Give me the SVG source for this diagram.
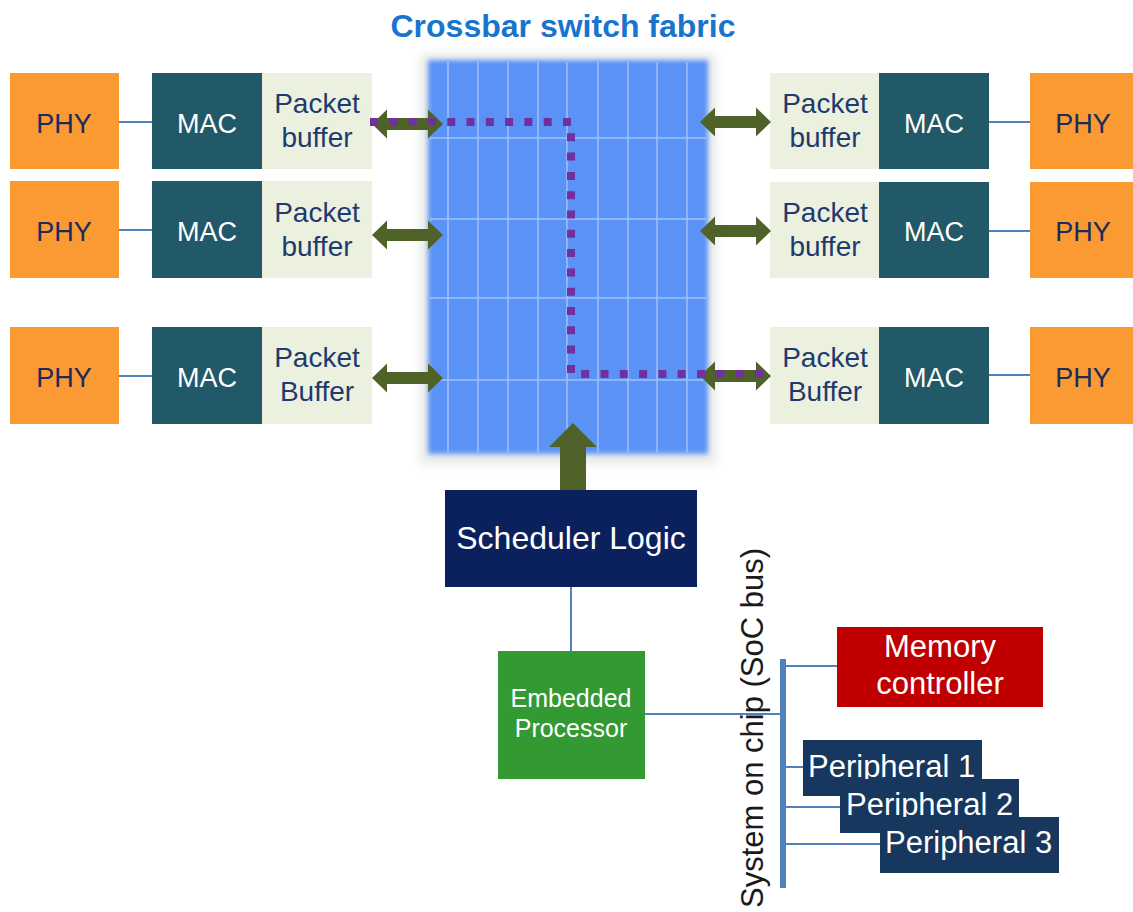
<svg xmlns="http://www.w3.org/2000/svg" width="1133" height="912" viewBox="0 0 1133 912">
<style>
  .phy{fill:#fb9933}
  .mac{fill:#215968}
  .pb{fill:#ebf1de}
  .t{font-family:"Liberation Sans",Arial,sans-serif;}
  .phyt{fill:#1c2b5a;font-size:27px;text-anchor:middle}
  .mact{fill:#ffffff;font-size:27px;text-anchor:middle}
  .pbt{fill:#1f3a6e;font-size:28px;text-anchor:middle}
  .wire{stroke:#4f81bd;stroke-width:2;fill:none}
  .grid{stroke:#b3cdfa;stroke-width:1.5;opacity:0.8}
  .garrow{fill:#4f6228}
  .per{fill:#17375e}
  .pert{fill:#ffffff;font-size:31px}
</style>
<defs>
  <filter id="soft" x="-10%" y="-10%" width="120%" height="120%">
    <feGaussianBlur stdDeviation="2.5"/>
  </filter>
  <filter id="shadow" x="-20%" y="-20%" width="140%" height="140%">
    <feGaussianBlur stdDeviation="5"/>
  </filter>
  <path id="dbl" d="M0 0 L15 -14.5 L15 -6 L56 -6 L56 -14.5 L71 0 L56 14.5 L56 6 L15 6 L15 14.5 Z"/>
</defs>
<rect width="1133" height="912" fill="#ffffff"/>

<!-- Title -->
<text class="t" x="563" y="37" font-size="32" font-weight="bold" fill="#1874cd" text-anchor="middle">Crossbar switch fabric</text>

<!-- Crossbar -->
<g id="crossbar">
  <rect x="420" y="54" width="296" height="410" fill="#cfcfcf" opacity="0.45" filter="url(#shadow)"/>
  <rect x="428" y="60" width="280" height="394" fill="#5a93f5" filter="url(#soft)"/>
  <g class="grid">
    <line x1="448" y1="62" x2="448" y2="452"/>
    <line x1="478" y1="62" x2="478" y2="452"/>
    <line x1="508" y1="62" x2="508" y2="452"/>
    <line x1="538" y1="62" x2="538" y2="452"/>
    <line x1="567" y1="62" x2="567" y2="452"/>
    <line x1="598" y1="62" x2="598" y2="452"/>
    <line x1="628" y1="62" x2="628" y2="452"/>
    <line x1="657" y1="62" x2="657" y2="452"/>
    <line x1="687" y1="62" x2="687" y2="452"/>
    <line x1="430" y1="138" x2="706" y2="138"/>
    <line x1="430" y1="219" x2="706" y2="219"/>
    <line x1="430" y1="298" x2="706" y2="298"/>
    <line x1="430" y1="380" x2="706" y2="380"/>
  </g>
</g>

<!-- Left ports -->
<g id="left-port-1">
  <rect class="phy" x="10" y="73" width="109" height="96"/>
  <text class="t phyt" x="64" y="133">PHY</text>
  <rect class="mac" x="152" y="73" width="110" height="96"/>
  <text class="t mact" x="207" y="133">MAC</text>
  <rect class="pb" x="262" y="73" width="110" height="96"/>
  <text class="t pbt" x="317" y="113">Packet</text>
  <text class="t pbt" x="317" y="147">buffer</text>
</g>
<g id="left-port-2">
  <rect class="phy" x="10" y="181" width="109" height="97"/>
  <text class="t phyt" x="64" y="241">PHY</text>
  <rect class="mac" x="152" y="181" width="110" height="97"/>
  <text class="t mact" x="207" y="241">MAC</text>
  <rect class="pb" x="262" y="181" width="110" height="97"/>
  <text class="t pbt" x="317" y="222">Packet</text>
  <text class="t pbt" x="317" y="256">buffer</text>
</g>
<g id="left-port-3">
  <rect class="phy" x="10" y="327" width="109" height="97"/>
  <text class="t phyt" x="64" y="387">PHY</text>
  <rect class="mac" x="152" y="327" width="110" height="97"/>
  <text class="t mact" x="207" y="387">MAC</text>
  <rect class="pb" x="262" y="327" width="110" height="97"/>
  <text class="t pbt" x="317" y="367">Packet</text>
  <text class="t pbt" x="317" y="401">Buffer</text>
</g>

<!-- Right ports -->
<g id="right-port-1">
  <rect class="pb" x="770" y="73" width="109" height="96"/>
  <text class="t pbt" x="825" y="113">Packet</text>
  <text class="t pbt" x="825" y="147">buffer</text>
  <rect class="mac" x="879" y="73" width="110" height="96"/>
  <text class="t mact" x="934" y="133">MAC</text>
  <rect class="phy" x="1030" y="73" width="103" height="96"/>
  <text class="t phyt" x="1083" y="133">PHY</text>
</g>
<g id="right-port-2">
  <rect class="pb" x="770" y="182" width="109" height="96"/>
  <text class="t pbt" x="825" y="222">Packet</text>
  <text class="t pbt" x="825" y="256">buffer</text>
  <rect class="mac" x="879" y="182" width="110" height="96"/>
  <text class="t mact" x="934" y="241">MAC</text>
  <rect class="phy" x="1030" y="182" width="103" height="96"/>
  <text class="t phyt" x="1083" y="241">PHY</text>
</g>
<g id="right-port-3">
  <rect class="pb" x="770" y="327" width="109" height="97"/>
  <text class="t pbt" x="825" y="367">Packet</text>
  <text class="t pbt" x="825" y="401">Buffer</text>
  <rect class="mac" x="879" y="327" width="110" height="97"/>
  <text class="t mact" x="934" y="387">MAC</text>
  <rect class="phy" x="1030" y="327" width="103" height="97"/>
  <text class="t phyt" x="1083" y="387">PHY</text>
</g>

<!-- Scheduler -->
<g id="scheduler">
  <rect x="445" y="490" width="252" height="97" fill="#0a215e"/>
  <text class="t" x="571" y="549" font-size="32" fill="#ffffff" text-anchor="middle">Scheduler Logic</text>
</g>

<!-- Embedded processor -->
<g id="processor">
  <rect x="498" y="651" width="147" height="128" fill="#339933"/>
  <text class="t" x="571" y="707" font-size="25" fill="#ffffff" text-anchor="middle">Embedded</text>
  <text class="t" x="571" y="737" font-size="25" fill="#ffffff" text-anchor="middle">Processor</text>
</g>

<!-- Memory controller -->
<g id="memory">
  <rect x="837" y="627" width="206" height="80" fill="#c00000"/>
  <text class="t" x="940" y="657" font-size="31" fill="#ffffff" text-anchor="middle">Memory</text>
  <text class="t" x="940" y="694" font-size="31" fill="#ffffff" text-anchor="middle">controller</text>
</g>

<!-- Connectors -->
<g id="connectors">
  <line class="wire" x1="119" y1="122" x2="152" y2="122"/>
  <line class="wire" x1="119" y1="230" x2="152" y2="230"/>
  <line class="wire" x1="119" y1="376" x2="152" y2="376"/>
  <line class="wire" x1="989" y1="122" x2="1030" y2="122"/>
  <line class="wire" x1="989" y1="231" x2="1030" y2="231"/>
  <line class="wire" x1="989" y1="375" x2="1030" y2="375"/>

  <use href="#dbl" class="garrow" x="372" y="124"/>
  <use href="#dbl" class="garrow" x="372" y="235"/>
  <use href="#dbl" class="garrow" x="372" y="378"/>
  <use href="#dbl" class="garrow" x="700" y="122"/>
  <use href="#dbl" class="garrow" x="700" y="231"/>
  <use href="#dbl" class="garrow" x="700" y="376"/>

  <path d="M370 122 H571 V374 H770" fill="none" stroke="#7030a0" stroke-width="8" stroke-dasharray="8 11.3"/>

  <path class="garrow" d="M573 423 L597 447 L586 447 L586 490 L560 490 L560 447 L549 447 Z"/>

  <line class="wire" x1="571" y1="587" x2="571" y2="651"/>
  <line class="wire" x1="645" y1="714" x2="783" y2="714"/>
  <line x1="783" y1="659" x2="783" y2="888" stroke="#4f81bd" stroke-width="6"/>
  <line class="wire" x1="783" y1="666" x2="837" y2="666"/>
  <line class="wire" x1="783" y1="767" x2="803" y2="767"/>
  <line class="wire" x1="783" y1="807" x2="840" y2="807"/>
  <line class="wire" x1="783" y1="844" x2="880" y2="844"/>
</g>

<!-- Peripherals -->
<g id="peripheral-1">
  <rect class="per" x="803" y="740" width="179" height="56"/>
  <text class="t pert" x="808" y="777">Peripheral 1</text>
</g>
<g id="peripheral-2">
  <rect class="per" x="840" y="779" width="179" height="54"/>
  <text class="t pert" x="846" y="815">Peripheral 2</text>
</g>
<g id="peripheral-3">
  <rect class="per" x="880" y="817" width="179" height="56"/>
  <text class="t pert" x="885" y="853">Peripheral 3</text>
</g>

<!-- SoC bus label -->
<text class="t" transform="translate(763 908) rotate(-90)" x="0" y="0" font-size="31" fill="#1a1a1a">System on chip (SoC bus)</text>
</svg>
